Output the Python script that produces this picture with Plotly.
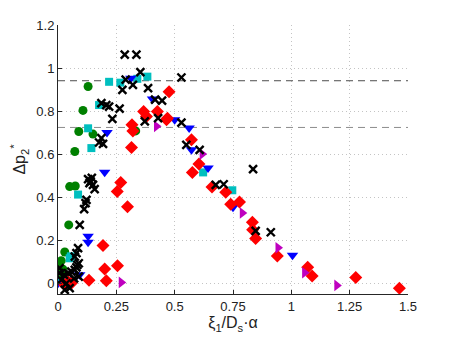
import plotly.graph_objects as go

# green circles
g_x = [0.129, 0.107, 0.089, 0.150, 0.072, 0.333, 0.050, 0.074, 0.046, 0.029, 0.014, 0.003, 0.021, 0.000, 0.024]
g_y = [0.914, 0.803, 0.705, 0.693, 0.612, 0.708, 0.449, 0.452, 0.271, 0.145, 0.105, 0.095, 0.065, 0.015, 0.040]

# cyan squares
c_x = [0.219, 0.267, 0.340, 0.383, 0.176, 0.129, 0.143, 0.086, 0.050, 0.055, 0.014, 0.622, 0.747]
c_y = [0.936, 0.932, 0.950, 0.960, 0.828, 0.720, 0.628, 0.412, 0.116, 0.125, 0.007, 0.515, 0.432]

# blue down-triangles
b_x = [0.312, 0.405, 0.210, 0.500, 0.562, 0.572, 0.643, 0.750, 1.005, 0.200, 0.129, 0.129, 0.093, 0.000, 0.064]
b_y = [0.953, 0.856, 0.700, 0.760, 0.721, 0.620, 0.535, 0.353, 0.130, 0.516, 0.218, 0.190, 0.040, 0.000, 0.015]

# red diamonds
r_x = [0.476, 0.367, 0.379, 0.426, 0.469, 0.465, 0.317, 0.321, 0.315, 0.572, 0.604, 0.576,
       0.660, 0.719, 0.778, 0.740, 0.833, 0.834, 0.847, 0.940, 1.070, 1.089, 1.276, 1.463,
       0.269, 0.254, 0.298, 0.193, 0.200, 0.255, 0.133, 0.207, 0.043, 0.029, 0.057]
r_y = [0.890, 0.798, 0.775, 0.798, 0.767, 0.760, 0.736, 0.708, 0.631, 0.667, 0.554, 0.515,
       0.447, 0.423, 0.378, 0.367, 0.283, 0.248, 0.208, 0.127, 0.074, 0.034, 0.027, -0.023,
       0.468, 0.426, 0.356, 0.175, 0.066, 0.081, 0.014, 0.011, 0.007, -0.008, 0.000]

# magenta right-triangles
m_x = [0.422, 0.618, 0.790, 0.943, 1.057, 1.195, 0.271]
m_y = [0.729, 0.600, 0.326, 0.165, 0.049, -0.010, 0.004]

# black crosses
k_x = [0.286, 0.336, 0.353, 0.290, 0.321, 0.276, 0.386, 0.529, 0.416, 0.446, 0.186, 0.207,
       0.219, 0.264, 0.233, 0.429, 0.372, 0.529, 0.186, 0.176, 0.193, 0.550, 0.607, 0.836,
       0.676, 0.710, 0.847, 0.912,
       0.129, 0.140, 0.150, 0.157, 0.122, 0.118, 0.112, 0.093, 0.086, 0.079, 0.072, 0.089,
       0.083, 0.079, 0.072, 0.057, 0.043, 0.026, 0.007, 0.007, 0.014, 0.036, 0.050, 0.029,
       0.069, 0.089, 0.145, 0.135]
k_y = [1.062, 1.062, 0.981, 0.946, 0.922, 0.899, 0.907, 0.956, 0.853, 0.849, 0.837, 0.828,
       0.821, 0.811, 0.764, 0.767, 0.752, 0.746, 0.674, 0.654, 0.648, 0.643, 0.620, 0.530,
       0.457, 0.460, 0.243, 0.237,
       0.484, 0.473, 0.457, 0.437, 0.387, 0.372, 0.344, 0.271, 0.163, 0.140, 0.124, 0.093,
       0.085, 0.074, 0.062, 0.054, 0.047, 0.039, 0.047, 0.070, 0.015, 0.000, -0.023, -0.031,
       0.023, 0.031, 0.490, 0.465]

# reference levels (dashed)
ref_levels = [0.941, 0.724]
ref_colors = ["#4d4d4d", "#8c8c8c"]
x_span = [0, 1.5]

x_ticks = [0, 0.25, 0.5, 0.75, 1, 1.25, 1.5]
x_ticklabels = ["0", "0.25", "0.5", "0.75", "1", "1.25", "1.5"]
y_ticks = [0, 0.2, 0.4, 0.6, 0.8, 1, 1.2]
y_ticklabels = ["0", "0.2", "0.4", "0.6", "0.8", "1", "1.2"]

fig = go.Figure()

for lev, col in zip(ref_levels, ref_colors):
    fig.add_trace(go.Scatter(x=x_span, y=[lev, lev], mode='lines',
                             line=dict(color=col, width=1, dash='7px,5px'),
                             hoverinfo='skip'))

fig.add_trace(go.Scatter(x=g_x, y=g_y, mode='markers',
                         marker=dict(symbol='circle', size=9, color='#008000')))
fig.add_trace(go.Scatter(x=c_x, y=c_y, mode='markers',
                         marker=dict(symbol='square', size=8, color='#00bfbf')))
fig.add_trace(go.Scatter(x=b_x, y=b_y, mode='markers',
                         marker=dict(symbol='triangle-down', size=10, color='#0000ff')))
fig.add_trace(go.Scatter(x=r_x, y=r_y, mode='markers',
                         marker=dict(symbol='diamond', size=10, color='#ff0000')))
fig.add_trace(go.Scatter(x=m_x, y=m_y, mode='markers',
                         marker=dict(symbol='triangle-right', size=10, color='#bf00bf')))
fig.add_trace(go.Scatter(x=k_x, y=k_y, mode='markers',
                         marker=dict(symbol='x-thin-open', size=8, color='black',
                                     line=dict(width=2.4, color='black'))))

fig.update_layout(
    width=450, height=339,
    margin=dict(l=58, r=42, t=25, b=45),
    plot_bgcolor='white', paper_bgcolor='white',
    showlegend=False,
    font=dict(family='Liberation Sans, Arial, sans-serif', size=13, color='#222222'),
)
fig.update_xaxes(
    range=[0, 1.5], tickvals=x_ticks, ticktext=x_ticklabels, automargin=False,
    showgrid=True, gridcolor='#c4c4c4', griddash='1px,3px', gridwidth=1,
    zeroline=False, showline=True, linecolor='#262626', linewidth=1,
    ticks='inside', ticklen=4, tickcolor='#262626',
    title=dict(text='ξ<sub>1</sub>/D<sub>s</sub>·α', standoff=4),
)
fig.update_yaxes(
    range=[-0.05, 1.2], tickvals=y_ticks, ticktext=y_ticklabels, automargin=False,
    showgrid=True, gridcolor='#c4c4c4', griddash='1px,3px', gridwidth=1,
    zeroline=False, showline=True, linecolor='#262626', linewidth=1,
    ticks='inside', ticklen=4, tickcolor='#262626',
    title=dict(text='Δp<sub>2</sub><sup>*</sup>', standoff=6),
)

fig.write_html("out.html", config={'displayModeBar': False},
               post_script="document.body.style.margin='0';")
